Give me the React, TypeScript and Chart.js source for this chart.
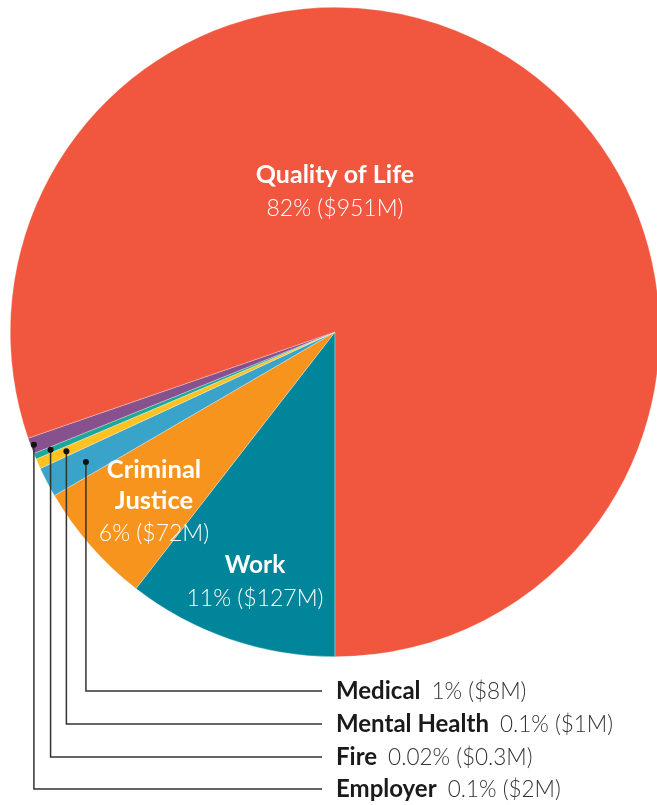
import React, { useEffect, useRef } from "react";
import { Chart, registerables } from "chart.js";

Chart.register(...registerables);

// Slice order (clockwise from 6 o'clock)
const categories = [
  "Work",
  "Criminal Justice",
  "Medical",
  "Mental Health",
  "Fire",
  "Employer",
  "Quality of Life",
];
// Visible slice shares (percent of the circle)
const sliceShares = [10.5, 6.1, 1.5, 0.5, 0.3, 0.8, 80.3];
// Printed labels
const percentLabels = ["11%", "6%", "1%", "0.1%", "0.02%", "0.1%", "82%"];
const costLabels = ["$127M", "$72M", "$8M", "$1M", "$0.3M", "$2M", "$951M"];
const sliceColors = [
  "#00859A",
  "#F7941E",
  "#3AA3C9",
  "#FFC222",
  "#1BA899",
  "#87518E",
  "#F1563E",
];

const FONT = "Lato, 'Source Sans Pro', 'Noto Sans', sans-serif";

const labelPlugin = {
  id: "sliceLabels",
  afterDatasetsDraw(chart: any) {
    const ctx: CanvasRenderingContext2D = chart.ctx;
    const meta = chart.getDatasetMeta(0);
    const a0: any = meta.data[0];
    const cx = a0.x;
    const cy = a0.y;
    const r = a0.outerRadius;
    const bold = (s: number) => `700 ${s}px ${FONT}`;
    const light = (s: number) => `300 ${s}px ${FONT}`;
    const txt = (i: number) => `${percentLabels[i]} (${costLabels[i]})`;

    ctx.save();
    ctx.textAlign = "center";
    ctx.textBaseline = "alphabetic";
    ctx.fillStyle = "#ffffff";

    // Quality of Life
    ctx.font = bold(25);
    ctx.fillText(categories[6], cx, cy - 149);
    ctx.font = light(23);
    ctx.fillText(txt(6), cx, cy - 116);

    // Criminal Justice
    ctx.font = bold(25.5);
    ctx.fillText("Criminal", cx - 181, cy + 146);
    ctx.fillText("Justice", cx - 181, cy + 177);
    ctx.font = light(23);
    ctx.fillText(txt(1), cx - 181, cy + 209);

    // Work
    ctx.font = bold(24.5);
    ctx.fillText(categories[0], cx - 80, cy + 241);
    ctx.font = light(23);
    ctx.fillText(txt(0), cx - 80, cy + 274);

    // Leader lines for small slices
    const small = [2, 3, 4, 5];
    const radFrac = [0.865, 0.905, 0.948, 0.99];
    const lineYs = [691, 724, 757, 789];
    const lineEndX = 322;
    ctx.strokeStyle = "#333333";
    ctx.lineWidth = 1.5;
    small.forEach((idx, k) => {
      const arc: any = meta.data[idx];
      const mid = (arc.startAngle + arc.endAngle) / 2;
      const px = cx + Math.cos(mid) * r * radFrac[k];
      const py = cy + Math.sin(mid) * r * radFrac[k];
      const ly = lineYs[k];
      ctx.beginPath();
      ctx.moveTo(px, py);
      ctx.lineTo(px, ly);
      ctx.lineTo(lineEndX, ly);
      ctx.stroke();
      ctx.fillStyle = "#111111";
      ctx.beginPath();
      ctx.arc(px, py, 3, 0, Math.PI * 2);
      ctx.fill();

      ctx.textAlign = "left";
      ctx.fillStyle = "#1a1a1a";
      ctx.font = bold(24);
      const name = categories[idx];
      ctx.fillText(name, 336, ly + 8);
      const w = ctx.measureText(name).width;
      ctx.font = light(22.5);
      ctx.fillStyle = "#333333";
      ctx.fillText(txt(idx), 336 + w + 11, ly + 8);
    });

    ctx.restore();
  },
};

export default function App() {
  const ref = useRef<HTMLCanvasElement | null>(null);

  useEffect(() => {
    if (!ref.current) return;
    const chart = new Chart(ref.current, {
      type: "pie",
      data: {
        labels: categories,
        datasets: [
          {
            data: sliceShares,
            backgroundColor: sliceColors,
            borderColor: "rgba(255,255,255,0.6)",
            borderWidth: 0.5,
          },
        ],
      },
      options: {
        responsive: false,
        animation: false,
        devicePixelRatio: 1,
        rotation: 180,
        layout: { padding: { left: 10, right: 10, top: 7, bottom: 148 } },
        plugins: {
          legend: { display: false },
          tooltip: { enabled: false },
        },
      },
      plugins: [labelPlugin],
    });
    return () => chart.destroy();
  }, []);

  return (
    <div
      style={{
        position: "fixed",
        left: 0,
        top: 0,
        width: 657,
        height: 805,
        overflow: "hidden",
        background: "#ffffff",
      }}
    >
      <canvas
        ref={ref}
        width={670}
        height={805}
        style={{ width: 670, height: 805, display: "block" }}
      />
    </div>
  );
}
